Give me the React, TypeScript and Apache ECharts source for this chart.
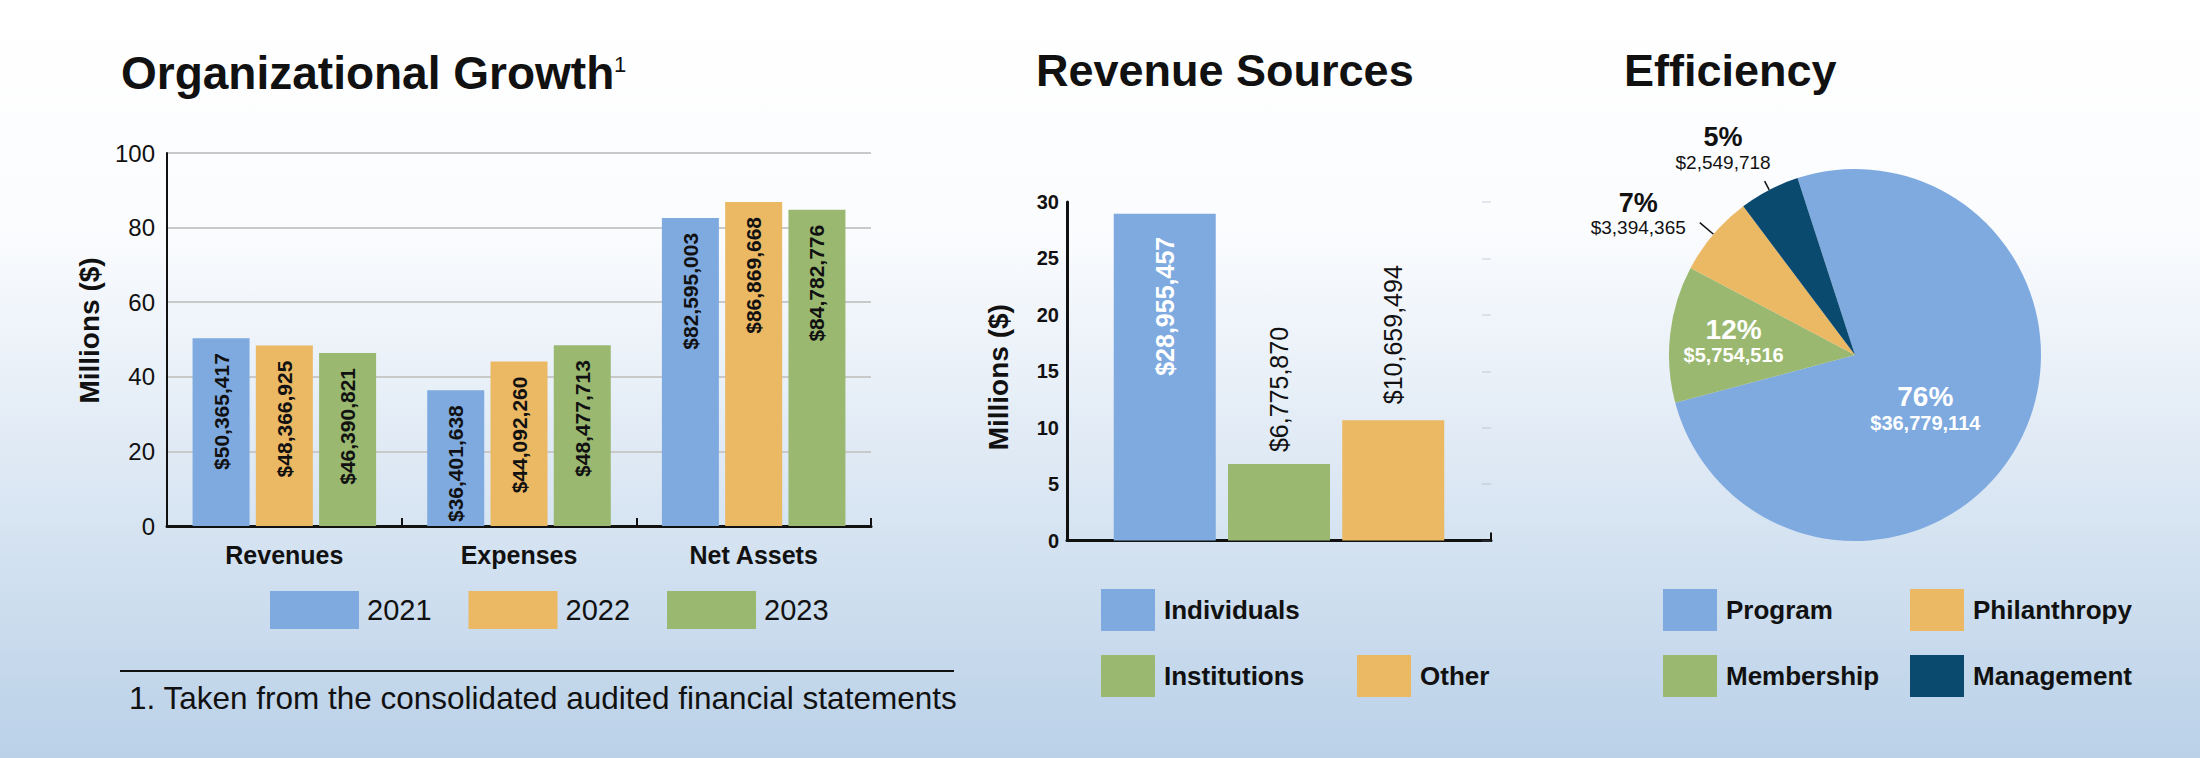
import { useEffect, useRef } from 'react'
import * as echarts from 'echarts'

// Organizational growth (dollars)
const years = ['2021', '2022', '2023']
const growthCategories = ['Revenues', 'Expenses', 'Net Assets']
const growth2021 = [50365417, 36401638, 82595003]
const growth2022 = [48366925, 44092260, 86869668]
const growth2023 = [46390821, 48477713, 84782776]
const growthSeries = [growth2021, growth2022, growth2023]

// Revenue sources (dollars)
const sourceNames = ['Individuals', 'Institutions', 'Other']
const sourceValues = [28955457, 6775870, 10659494]

// Efficiency (dollars)
const efficiencyNames = ['Program', 'Membership', 'Philanthropy', 'Management']
const efficiencyValues = [36779114, 5754516, 3394365, 2549718]

const titles = ['Organizational Growth', 'Revenue Sources', 'Efficiency']
const footnote = '1. Taken from the consolidated audited financial statements'

const BLUE   = '#7eaae0'
const ORANGE = '#ebb864'
const GREEN  = '#9ab870'
const NAVY   = '#0b4a6f'
const INK    = '#111111'
const FONT   = '"Liberation Sans", Arial, sans-serif'

const yearColors   = [BLUE, ORANGE, GREEN]
const sourceColors = [BLUE, GREEN, ORANGE]
const effColors    = [BLUE, GREEN, ORANGE, NAVY]

const money = (v: number) => '$' + v.toLocaleString('en-US')

export default function App() {
  const ref = useRef<HTMLDivElement>(null)

  useEffect(() => {
    if (!ref.current) return
    document.body.style.margin = '0'
    const chart = echarts.init(ref.current, null, { renderer: 'svg' })

    const legendBox = (name: string, left: number, top: number) => ({
      data: [name], left, top, padding: 0, icon: 'rect',
      itemWidth: 54, itemHeight: 42, selectedMode: false,
      textStyle: { fontFamily: FONT, fontSize: 26, fontWeight: 'bold', color: INK, padding: [0, 0, 0, 4] },
    })

    chart.setOption({
      animation: false,
      backgroundColor: {
        type: 'linear', x: 0, y: 0, x2: 0, y2: 1,
        colorStops: [
          { offset: 0, color: '#ffffff' },
          { offset: 0.3, color: '#fbfcfe' },
          { offset: 1, color: '#bad1e8' },
        ],
      },
      textStyle: { fontFamily: FONT },
      graphic: [
        { type: 'text', x: 121, y: 73, style: { text: titles[0], fontFamily: FONT, fontSize: 46, fontWeight: 'bold', fill: INK, verticalAlign: 'middle' } },
        { type: 'text', x: 614, y: 64, style: { text: '1', fontFamily: FONT, fontSize: 22, fill: INK, verticalAlign: 'middle' } },
        { type: 'text', x: 1036, y: 70, style: { text: titles[1], fontFamily: FONT, fontSize: 45, fontWeight: 'bold', fill: INK, verticalAlign: 'middle' } },
        { type: 'text', x: 1624, y: 70, style: { text: titles[2], fontFamily: FONT, fontSize: 45, fontWeight: 'bold', fill: INK, verticalAlign: 'middle' } },
        { type: 'line', shape: { x1: 120, y1: 671, x2: 954, y2: 671 }, style: { stroke: INK, lineWidth: 2 } },
        { type: 'text', x: 129, y: 698, style: { text: footnote, fontFamily: FONT, fontSize: 31.5, fill: INK, verticalAlign: 'middle' } },
      ],
      legend: [
        {
          data: years, left: 270, top: 591, padding: 0, icon: 'rect',
          itemWidth: 89, itemHeight: 38, itemGap: 37, selectedMode: false,
          textStyle: { fontFamily: FONT, fontSize: 29, color: INK, padding: [0, 0, 0, 3] },
        },
        legendBox('Individuals', 1101, 589),
        legendBox('Institutions', 1101, 655),
        legendBox('Other', 1357, 655),
        legendBox('Program', 1663, 589),
        legendBox('Philanthropy', 1910, 589),
        legendBox('Membership', 1663, 655),
        legendBox('Management', 1910, 655),
      ],
      grid: [
        { left: 167, top: 153, width: 704, height: 373 },
        { left: 1067, top: 202, width: 424, height: 338.5 },
      ],
      xAxis: [
        {
          type: 'category', gridIndex: 0, data: growthCategories,
          axisLine: { lineStyle: { color: INK, width: 3 } },
          axisTick: { show: true, inside: true, length: 8, lineStyle: { color: INK, width: 2 } },
          axisLabel: { fontSize: 25, fontWeight: 'bold', color: INK, margin: 16 },
        },
        {
          type: 'category', gridIndex: 1, data: [''],
          axisLine: { lineStyle: { color: INK, width: 3 } },
          axisTick: { show: true, inside: true, length: 8, lineStyle: { color: INK, width: 2 } },
          axisLabel: { show: false },
        },
      ],
      yAxis: [
        {
          type: 'value', gridIndex: 0, min: 0, max: 100, interval: 20,
          name: 'Millions ($)', nameLocation: 'middle', nameGap: 64,
          nameTextStyle: { fontSize: 28, fontWeight: 'bold', color: INK, padding: [0, 0, 0, 18] },
          axisLine: { show: true, lineStyle: { color: INK, width: 2 } },
          axisTick: { show: false },
          axisLabel: { fontSize: 24, color: INK, margin: 12 },
          splitLine: { lineStyle: { color: '#c9c9c9', width: 2 } },
        },
        {
          type: 'value', gridIndex: 1, min: 0, max: 30, interval: 5,
          name: 'Millions ($)', nameLocation: 'middle', nameGap: 55,
          nameTextStyle: { fontSize: 28, fontWeight: 'bold', color: INK, padding: [0, 12, 0, 0] },
          axisLine: { show: true, lineStyle: { color: INK, width: 3 } },
          axisTick: { show: false },
          axisLabel: { fontSize: 20, fontWeight: 'bold', color: INK, margin: 8 },
          splitLine: { show: false },
        },
        {
          type: 'value', gridIndex: 1, min: 0, max: 30, interval: 5, position: 'right',
          axisLine: { show: false },
          axisTick: { show: true, inside: true, length: 9, lineStyle: { color: 'rgba(120,140,160,0.18)', width: 2 } },
          axisLabel: { show: false },
          splitLine: { show: false },
        },
      ],
      series: [
        ...growthSeries.map((vals, i) => ({
          type: 'bar', name: years[i], xAxisIndex: 0, yAxisIndex: 0,
          barWidth: 57, barGap: '11%',
          itemStyle: { color: yearColors[i] },
          data: vals.map(v => v / 1e6),
          label: {
            show: true, position: 'insideTop', distance: 15, rotate: 90,
            align: 'right', verticalAlign: 'middle',
            fontSize: 21, fontWeight: 'bold', color: INK,
            formatter: (p: any) => money(vals[p.dataIndex]),
          },
        })),
        ...sourceNames.map((name, i) => ({
          type: 'bar', name, xAxisIndex: 1, yAxisIndex: 1,
          barWidth: 102, barGap: '12%',
          itemStyle: { color: sourceColors[i] },
          data: [sourceValues[i] / 1e6],
          label: i === 0
            ? {
                show: true, position: 'insideTop', distance: 23, rotate: 90,
                align: 'right', verticalAlign: 'middle',
                fontSize: 25, fontWeight: 'bold', color: '#ffffff',
                formatter: () => money(sourceValues[i]),
              }
            : {
                show: true, position: 'top', distance: i === 1 ? 12 : 16, rotate: 90,
                align: 'left', verticalAlign: 'middle',
                fontSize: 25, color: INK,
                formatter: () => money(sourceValues[i]),
              },
        })),
        {
          type: 'pie', name: 'Efficiency',
          center: [1855, 355], radius: 186, startAngle: 108, clockwise: true,
          avoidLabelOverlap: false,
          data: efficiencyNames.map((name, i) => {
            const inside = i < 2
            return {
              name, value: efficiencyValues[i],
              itemStyle: { color: effColors[i] },
              label: inside
                ? { position: 'inside' }
                : { position: 'outside', distanceToLabelLine: 14 },
              labelLine: { show: !inside, length: i === 2 ? 18 : 10, length2: 0, lineStyle: { color: INK, width: 1.5 } },
            }
          }),
          label: {
            show: true,
            formatter: (p: any) => {
              const pct = Math.round(p.percent) + '%'
              return p.dataIndex < 2
                ? `{pw|${pct}}\n{vw|${money(p.value)}}`
                : `{pb|${pct}}\n{vb|${money(p.value)}}`
            },
            rich: {
              pw: { fontSize: 28, fontWeight: 'bold', color: '#ffffff', align: 'center', lineHeight: 30 },
              vw: { fontSize: 20, fontWeight: 'bold', color: '#ffffff', align: 'center', lineHeight: 22 },
              pb: { fontSize: 27, fontWeight: 'bold', color: INK, align: 'center', lineHeight: 28 },
              vb: { fontSize: 19, color: INK, align: 'center', lineHeight: 22 },
            },
          },
          labelLayout: (p: any) => {
            if (p.dataIndex === 0) return { dx: -14, dy: 7 }
            if (p.dataIndex === 1) return { dx: -26, dy: -4 }
            if (p.dataIndex === 2) return { dy: -9 }
            if (p.dataIndex === 3) return { dx: 20, dy: -33 }
            return {}
          },
        },
      ],
    })

    return () => { chart.dispose() }
  }, [])

  return <div ref={ref} style={{ position: 'absolute', left: 0, top: 0, width: 2200, height: 758 }} />
}
